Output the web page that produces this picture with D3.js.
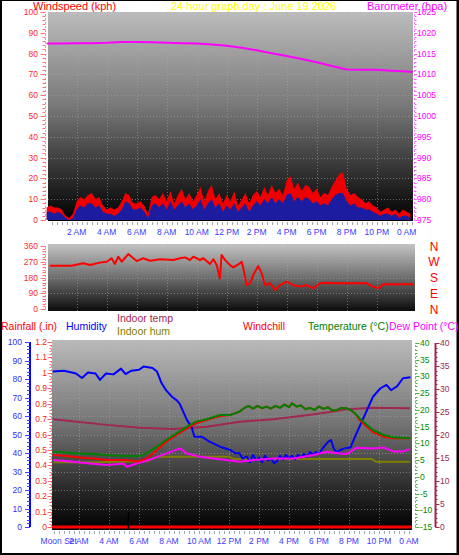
<!DOCTYPE html>
<html><head><meta charset="utf-8">
<script src="https://cdn.jsdelivr.net/npm/d3@7/dist/d3.min.js"></script>
<style>html,body{margin:0;padding:0;background:#fff;}svg{display:block;}</style>
</head><body>
<svg id="chart" width="459" height="555"></svg>
<script>
// ---------------- DATA ----------------
const titleText = "24 hour graph day : June 19 2026";
const timeTickHours = [2,4,6,8,10,12,14,16,18,20,22,24];
const timeTickLabels = ["2 AM","4 AM","6 AM","8 AM","10 AM","12 PM","2 PM","4 PM","6 PM","8 PM","10 PM","0 AM"];
const moonSetHour = 0.65;
const moonSetLabel = "Moon Set";
const sunriseHour = 5.27;

// wind speed (kph), every 15 minutes from 0:00
const windHours = d3.range(0, 24.26, 0.25);
const windGust = [6,7,6,6, 5,2,1,3, 9,11,10,12, 13,10,11,7, 5,6,5,6, 9,13,12,8, 8,9,7,3,
  11,12,10,13, 9,14,8,12, 15,10,13,9, 12,16,9,14, 17,10,13,8, 12,9,14,7, 10,13,8,12,
  14,11,16,12, 17,13,15,12, 19,21,15,18, 14,17,16,13, 15,11,13,12, 16,19,22,23,
  15,12,13,11, 10,8,9,7, 6,4,5,6, 4,5,3,5, 4,3];
const windAvg = [4,4,3,4, 3,1,0,1, 5,7,6,8, 8,6,7,4, 3,3,2,3, 5,9,8,5, 5,6,4,1,
  7,8,6,8, 5,9,5,7, 9,6,8,5, 7,10,5,8, 10,6,8,4, 7,5,8,4, 6,8,4,7,
  9,7,10,8, 11,8,10,8, 12,13,9,11, 9,11,10,8, 9,7,8,7, 10,12,13,13,
  9,7,8,6, 6,5,5,4, 3,2,3,3, 2,3,1,2, 2,1];

// barometer (hpa)
const baroHours = [0,1,2,3,4,5,6,7,8,9,10,11,12,13,14,15,16,17,18,19,20,21,22,23,24,24.4];
const baroValues = [1017.4,1017.4,1017.5,1017.5,1017.6,1017.8,1017.8,1017.7,1017.6,1017.5,1017.4,1017.2,
  1016.9,1016.4,1015.8,1015.1,1014.4,1013.7,1012.9,1012.0,1011.2,1011.1,1011.1,1010.9,1010.7,1010.6];

// wind direction (degrees)
const dirHours = [0.22,1.66,2.44,2.89,3.55,4,4.33,4.55,4.77,5,5.44,5.78,6,6.44,6.89,7.56,8.44,8.89,9.22,9.55,
  9.77,10.22,10.44,10.89,11.11,11.33,11.55,11.66,11.89,12.22,12.44,12.88,13,13.11,13.33,13.55,13.77,14.1,14.33,14.55,
  14.89,15.22,15.55,16,16.44,16.89,17.33,17.77,18.22,18.66,19.11,20.22,21.33,21.77,22.11,22.44,24.44];
const dirValues = [247,247,261,251,265,270,290,257,299,270,314,290,274,290,276,284,280,290,295,280,
  299,280,290,257,284,251,175,309,280,251,238,261,270,232,137,147,194,246,204,137,
  147,109,137,156,137,128,137,118,147,150,147,147,147,128,118,141,141];
const dirCompass = ["N","E","S","W","N"];

// humidity (%)
const humHours = [0.25,1,1.8,2.2,2.6,3.1,3.4,3.8,4.3,4.8,5.1,5.5,6,6.3,6.9,7.2,7.5,7.8,8.2,8.5,
  8.7,9.2,9.5,9.7,10.2,10.7,11.4,12.1,12.4,12.7,12.9,13.2,13.4,13.6,13.8,14.0,14.2,14.4,14.6,14.8,
  15.0,15.2,15.4,15.6,15.8,16.0,16.2,16.4,16.6,16.8,17.0,17.2,17.4,17.6,17.8,18.0,18.2,18.4,18.6,18.8,
  19.0,19.2,19.4,19.7,20.1,20.5,21.2,21.6,22.1,22.5,22.8,23.2,23.6,24.1];
const humValues = [84,84.5,83,80.5,83.5,83,79.5,83,82.5,85.6,82.7,84.5,85,86.7,86,84,77.8,74,70.4,68.6,
  66.8,57.8,54.2,48.8,48.8,46.1,43.4,41.6,40,39.8,37,38,35,39,36,37.5,35,38.5,36,37,
  34.5,35.5,38.5,36.5,39,37,38.5,36.5,39,37.5,39.5,38,40.5,39,40.5,39.5,42,44,46,47,
  42,40.5,41.5,42.5,43,50.6,63.2,70.4,75,76.8,74,76,80.4,81];

// outdoor temperature / windchill (°C)
const tempHours = [0.25,1,2,3,3.8,5,6,6.5,7.2,7.8,8.5,9.2,9.8,10.5,11.4,12.1,12.7,13.0,13.3,13.6,
  13.9,14.2,14.5,14.8,15.1,15.4,15.7,16.0,16.2,16.5,16.8,17.1,17.4,17.7,18.0,18.3,18.6,18.9,19.2,19.5,
  19.8,20.1,20.4,20.7,21.2,21.6,22.3,22.9,24.1];
const tempValues = [7.5,7.3,7.0,6.8,6.5,6.2,6.2,7.0,9.0,11.0,13.0,15.0,16.5,17.2,18.5,18.5,19.5,20.5,21.2,20.4,
  21.2,20.5,21.0,20.4,21.2,20.6,21.6,20.8,22.0,21.0,21.3,20.2,20.6,20.0,21.0,20.3,20.8,19.8,20.0,20.6,
  20.5,20.0,19.0,17.5,15.5,14.0,12.5,11.8,11.5];
const chillValues = [6.5,6.3,5.8,5.5,5.0,5.0,4.6,5.5,8.0,10.5,12.5,14.5,16.0,17.0,18.2,18.5,19.5,20.5,21.2,20.4,
  21.2,20.5,21.0,20.4,21.2,20.6,21.6,20.8,22.0,21.0,21.3,20.2,20.6,20.0,21.0,20.3,20.8,19.8,20.0,20.6,
  20.5,20.0,19.0,17.0,15.0,13.4,12.0,11.5,11.5];

// dew point (°C)
const dewHours = [0.29,1.62,2.73,3.84,4.96,5.18,6.07,6.96,7.84,8.73,9.18,10.07,10.96,11.84,12.73,13.62,14.96,16.29,17.62,18.51,
  19.4,19.84,20.51,21.62,22.29,22.96,23.62,24.07];
const dewValues = [5.0,4.5,4.0,3.5,4.0,3.0,4.3,5.5,7.0,8.5,7.0,6.0,5.5,5.0,4.5,5.0,5.5,5.5,6.5,7.5,
  7.0,6.8,8.7,8.5,8.8,7.6,7.6,8.3];

// indoor temperature (°C) and indoor humidity (%)
const inTempHours = [0.29,3.84,6.07,8.29,10.51,12.73,14.96,17.18,18.73,19.84,21.62,24.07];
const inTempValues = [23.4,22.2,21.6,21.3,21.8,22.9,23.4,24.3,25.0,25.6,25.9,25.8];
const inHumHours = [0.29,3,6.5,7.2,12,12.3,16.5,19,21.5,21.8,24.07];
const inHumValues = [35,35,35.5,38,38,36.8,36.8,36.8,36.8,35.3,35.3];

// rainfall (in)
const rainHours = [0.2,24.2];
const rainValues = [0,0];

// axis tick values
const speedTicks = [0,10,20,30,40,50,60,70,80,90,100];
const baroTicks = [975,980,985,990,995,1000,1005,1010,1015,1020,1025];
const dirTicks = [0,90,180,270,360];
const humTicks = [0,10,20,30,40,50,60,70,80,90,100];
const rainTicks = [0,0.1,0.2,0.3,0.4,0.5,0.6,0.7,0.8,0.9,1,1.1,1.2];
const tempTicks = [-15,-10,-5,0,5,10,15,20,25,30,35,40];
const inTempTicks = [0,5,10,15,20,25,30,35,40];

// ---------------- DRAWING ----------------
const FONT = '"Liberation Sans", Arial, Helvetica, sans-serif';
const svg = d3.select("#chart").style("font-family", FONT);
svg.append("rect").attr("width",459).attr("height",555).attr("fill","#000");
svg.append("rect").attr("x",2).attr("y",1).attr("width",454.5).attr("height",552).attr("fill","#fff");

const defs = svg.append("defs");
function grad(id, stops){
  const g = defs.append("linearGradient").attr("id",id).attr("x1",0).attr("y1",0).attr("x2",0).attr("y2",1);
  stops.forEach(s=>g.append("stop").attr("offset",s[0]).attr("stop-color",s[1]));
}
grad("gTop", [[0,"#bcbcbc"],[0.45,"#787878"],[0.8,"#2a2a2a"],[1,"#000"]]);
grad("gDir", [[0,"#c4c4c4"],[0.5,"#6e6e6e"],[1,"#0c0c0c"]]);
grad("gBot", [[0,"#bababa"],[0.45,"#727272"],[0.8,"#262626"],[1,"#000"]]);

const P1 = {x0:48, x1:413, y0:12, y1:221};
const P2 = {x0:48, x1:415, y0:244, y1:311};
const P3 = {x0:52, x1:412, y0:340, y1:530};
[[P1,"gTop"],[P2,"gDir"],[P3,"gBot"]].forEach(([p,g])=>{
  svg.append("rect").attr("x",p.x0).attr("y",p.y0).attr("width",p.x1-p.x0).attr("height",p.y1-p.y0)
    .attr("fill",`url(#${g})`);
});

const xTop = d3.scaleLinear().domain([0,24]).range([46.7,406.7]);
const xBot = d3.scaleLinear().domain([0,24]).range([49,409]);
const ySpeed = d3.scaleLinear().domain([0,100]).range([220,12]);
const yBaro = d3.scaleLinear().domain([975,1025]).range([220,12]);
const yDir = d3.scaleLinear().domain([0,360]).range([309,246]);
const yHum = d3.scaleLinear().domain([0,100]).range([527,342]);
const yRain = d3.scaleLinear().domain([0,1.2]).range([527,342]);
const yTemp = d3.scaleLinear().domain([-15,40]).range([527,343]);
const yIn = d3.scaleLinear().domain([0,40]).range([527,343]);

const gridStroke = "rgba(170,170,170,0.55)";
function hGrid(p, scale, vals){
  svg.append("g").selectAll("line").data(vals).join("line")
    .attr("x1",p.x0).attr("x2",p.x1).attr("y1",d=>Math.round(scale(d))+0.5).attr("y2",d=>Math.round(scale(d))+0.5)
    .attr("stroke",gridStroke).attr("stroke-dasharray","1,2");
}
function vGrid(p, scale, vals){
  svg.append("g").selectAll("line").data(vals).join("line")
    .attr("y1",p.y0).attr("y2",p.y1).attr("x1",d=>Math.round(scale(d))+0.5).attr("x2",d=>Math.round(scale(d))+0.5)
    .attr("stroke",gridStroke).attr("stroke-dasharray","1,2");
}
hGrid(P1, ySpeed, speedTicks.slice(1,-1));
vGrid(P1, xTop, timeTickHours.slice(0,-1));
hGrid(P2, yDir, [90,180,270]);
vGrid(P2, xTop, timeTickHours.slice(0,-1));
hGrid(P3, yHum, humTicks.slice(1,-1));
vGrid(P3, xBot, timeTickHours.slice(0,-1));

function vAxis(o){
  const g = svg.append("g");
  const [r0,r1] = o.scale.range();
  g.append("line").attr("x1",o.x).attr("x2",o.x).attr("y1",r0).attr("y2",r1)
    .attr("stroke",o.lineColor).attr("stroke-width",o.lineWidth||1).attr("stroke-dasharray",o.dash||null);
  const dir = o.side==="left" ? -1 : 1;
  g.selectAll(".mn").data(o.minor).join("line")
    .attr("x1",o.x).attr("x2",o.x+dir*o.minLen).attr("y1",d=>Math.round(o.scale(d))+0.5).attr("y2",d=>Math.round(o.scale(d))+0.5)
    .attr("stroke",o.tickColor);
  g.selectAll(".mj").data(o.ticks).join("line")
    .attr("x1",o.x).attr("x2",o.x+dir*o.majLen).attr("y1",d=>Math.round(o.scale(d))+0.5).attr("y2",d=>Math.round(o.scale(d))+0.5)
    .attr("stroke",o.tickColor);
  g.selectAll("text").data(o.ticks).join("text")
    .attr("x",o.labelX).attr("y",d=>o.scale(d)+3)
    .attr("text-anchor",o.side==="left"?"end":"start")
    .attr("font-size",o.fontSize||8.5).attr("fill",o.labelColor)
    .text(o.format||(d=>d));
}
function range(a,b,s){const r=[];for(let v=a;v<=b+1e-9;v+=s)r.push(+v.toFixed(4));return r;}

vAxis({scale:ySpeed,x:45.5,side:"left",ticks:speedTicks,minor:range(0,100,2),majLen:5,minLen:3,
  lineColor:"#ff9090",dash:"2,2",tickColor:"#ff7070",labelColor:"#ff2a2a",labelX:38});
vAxis({scale:yBaro,x:414.5,side:"right",ticks:baroTicks,minor:range(975,1025,1),majLen:3,minLen:2,
  lineColor:"#ff80ff",dash:"2,2",tickColor:"#ff60ff",labelColor:"#ff00ff",labelX:417});
vAxis({scale:yDir,x:45.5,side:"left",ticks:dirTicks,minor:range(0,360,15),majLen:5,minLen:3,
  lineColor:"#ff9090",dash:"2,2",tickColor:"#ff7070",labelColor:"#ff2a2a",labelX:38});
vAxis({scale:yHum,x:30,side:"left",ticks:humTicks,minor:range(0,100,2),majLen:5,minLen:3,
  lineColor:"#0000ff",lineWidth:2,tickColor:"#4040ff",labelColor:"#3030ff",labelX:22});
vAxis({scale:yRain,x:51.5,side:"left",ticks:rainTicks,minor:range(0,1.2,0.02),majLen:4,minLen:2,
  lineColor:"#ff8080",dash:"2,2",tickColor:"#ff6060",labelColor:"#ff2020",labelX:47,
  format:d=>String(d)});
vAxis({scale:yTemp,x:415.5,side:"right",ticks:tempTicks,minor:range(-15,40,1),majLen:4,minLen:2,
  lineColor:"#70c070",dash:"2,2",tickColor:"#50b050",labelColor:"#008a00",labelX:420});
vAxis({scale:yIn,x:435.5,side:"right",ticks:inTempTicks,minor:range(0,40,1),majLen:4,minLen:2,
  lineColor:"#a0284e",lineWidth:2,tickColor:"#a0284e",labelColor:"#a0284e",labelX:440});

function xAxis(scale, y, p){
  const g = svg.append("g");
  g.selectAll("line").data(range(0,24.4,1/3).filter(h=>scale(h)>=p.x0&&scale(h)<=p.x1)).join("line")
    .attr("x1",d=>Math.round(scale(d))+0.5).attr("x2",d=>Math.round(scale(d))+0.5)
    .attr("y1",y).attr("y2",y+3).attr("stroke","#a8a8a8");
  g.selectAll("text").data(timeTickHours).join("text")
    .attr("x",(d)=>scale(d)).attr("y",y+13).attr("text-anchor","middle")
    .attr("font-size",8.5).attr("fill","#3a3aff").text((d,i)=>timeTickLabels[i]);
}
xAxis(xTop, 222, P1);
xAxis(xBot, 531, P3);
svg.append("text").attr("x",xBot(moonSetHour)).attr("y",544).attr("text-anchor","middle")
  .attr("font-size",8.5).attr("fill","#3a3aff").text(moonSetLabel);

// ---- top panel: wind speed + barometer ----
const windData = windHours.map((h,i)=>({h, g:windGust[i], a:windAvg[i]}));
const areaG = d3.area().x(d=>xTop(d.h)).y0(ySpeed(0)).y1(d=>ySpeed(d.g));
const areaA = d3.area().x(d=>xTop(d.h)).y0(ySpeed(0)).y1(d=>ySpeed(d.a));
svg.append("path").attr("d",areaG(windData)).attr("fill","#ee0000");
svg.append("path").attr("d",areaA(windData)).attr("fill","#1c1ca0");
const lineTop = (ys)=>d3.line().x(d=>xTop(d[0])).y(d=>ys(d[1]));
svg.append("path").attr("d",lineTop(yBaro)(d3.zip(baroHours,baroValues)))
  .attr("fill","none").attr("stroke","#ff00ff").attr("stroke-width",2);

// ---- wind direction ----
svg.append("path").attr("d",lineTop(yDir)(d3.zip(dirHours,dirValues)))
  .attr("fill","none").attr("stroke","#ff0000").attr("stroke-width",2).attr("stroke-linejoin","round");
svg.append("g").selectAll("text").data(dirTicks).join("text")
  .attr("x",434).attr("y",d=>yDir(d)+4.5).attr("text-anchor","middle")
  .attr("font-size",12).attr("fill","#ff0000").text((d,i)=>dirCompass[i]);

// ---- bottom panel ----
const lineBot = (ys)=>d3.line().x(d=>xBot(d[0])).y(d=>ys(d[1]));
function drawBot(hours, vals, ys, color, w){
  svg.append("path").attr("d",lineBot(ys)(d3.zip(hours,vals)))
    .attr("fill","none").attr("stroke",color).attr("stroke-width",w||2).attr("stroke-linejoin","round");
}
drawBot(rainHours, rainValues, yRain, "#ff0000", 3);
drawBot(inHumHours, inHumValues, yHum, "#808000", 2);
drawBot(inTempHours, inTempValues, yIn, "#a0284e", 2);
drawBot(humHours, humValues, yHum, "#0000ff", 2);
drawBot(dewHours, dewValues, yTemp, "#ff00ff", 2);
drawBot(tempHours, chillValues, yTemp, "#ff0000", 2);
drawBot(tempHours, tempValues, yTemp, "#008000", 2);
svg.append("line").attr("x1",Math.round(xBot(sunriseHour))+0.5).attr("x2",Math.round(xBot(sunriseHour))+0.5)
  .attr("y1",512).attr("y2",P3.y1).attr("stroke","#000").attr("stroke-width",1.5);

// ---- titles / legends ----
function label(t,x,y,c,fs){
  svg.append("text").attr("x",x).attr("y",y).attr("font-size",fs||11).attr("fill",c).text(t);
}
label("Windspeed (kph)",33,9.5,"#ff0000");
label(titleText,171,9.5,"#ffff00");
label("Barometer (hpa)",367,9.5,"#ff00ff");
label("Rainfall (.in)",1,330,"#ff0000",10.5);
label("Humidity",66,330,"#0000ff",10.5);
label("Indoor temp",117,322,"#a0284e",10.5);
label("Indoor hum",117,334.5,"#808000",10.5);
label("Windchill",243,330,"#ff0000",10.5);
label("Temperature (°C)",308,330,"#008000",10.5);
label("Dew Point (°C)",389,330,"#ff00ff",10.5);
</script>
</body></html>
